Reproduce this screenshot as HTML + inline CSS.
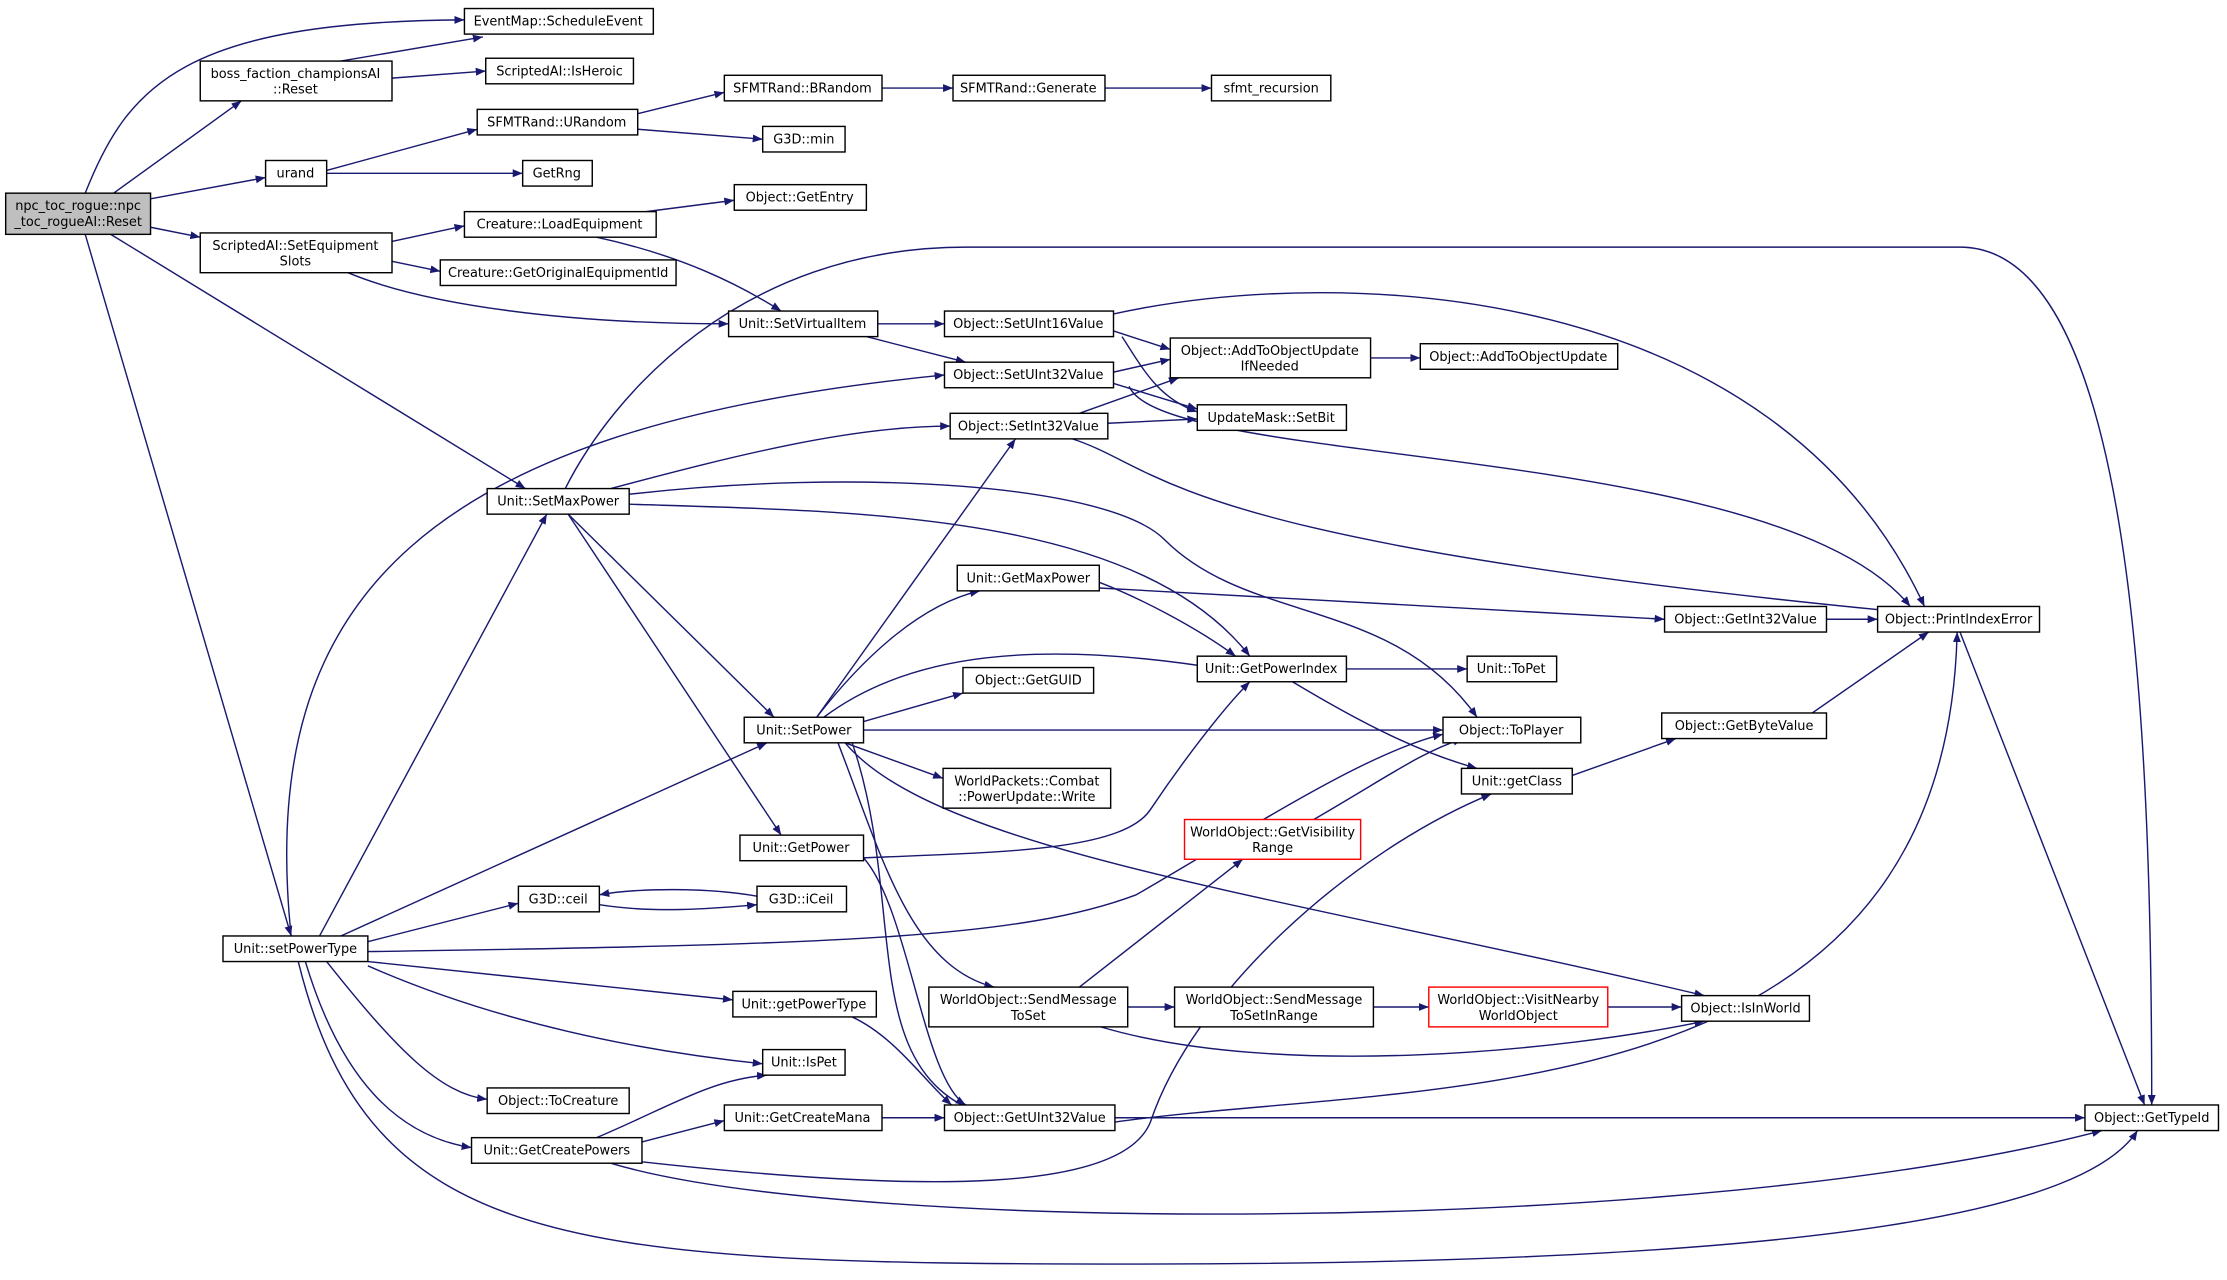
<!DOCTYPE html>
<html><head><meta charset="utf-8"><style>
html,body{margin:0;padding:0;background:#fff;}
svg text{font-family:"DejaVu Sans","Liberation Sans",sans-serif;font-size:9.1px;fill:#000;}
</style></head><body>
<svg width="2227" height="1275" viewBox="0 0 1568 897.7" xmlns="http://www.w3.org/2000/svg">
<defs><marker id="a" viewBox="0 0 10 10" refX="10" refY="5" markerWidth="7" markerHeight="7" orient="auto" markerUnits="userSpaceOnUse"><path d="M0,1 L10,5 L0,9 z" fill="#191970"/></marker></defs>
<g fill="none" stroke="#191970" stroke-width="1" marker-end="url(#a)">
<path d="M60,136 C90,60 130,15 327,14"/>
<path d="M80,136 L170,71"/>
<path d="M106,140 L187,125"/>
<path d="M106,160 L141,167"/>
<path d="M78,165 L370,344"/>
<path d="M60,165 L205,659"/>
<path d="M240,43 L340,26"/>
<path d="M276,55 L342,50"/>
<path d="M230,120 L336,91"/>
<path d="M230,122 L368,122"/>
<path d="M449,80 L510,65"/>
<path d="M449,91 L537,98"/>
<path d="M621,62 L671,62"/>
<path d="M778,62 L853,62"/>
<path d="M276,170 L327,159"/>
<path d="M276,184 L310,191"/>
<path d="M245,192 C300,215 400,228 513,228"/>
<path d="M455,149 L517,141"/>
<path d="M420,167 C480,180 520,200 550,219"/>
<path d="M618,228 L665,228"/>
<path d="M610,237 L680,255"/>
<path d="M784,233 L824,246"/>
<path d="M790,237 C805,260 815,280 843,290"/>
<path d="M784,221 C950,185 1250,200 1355,427"/>
<path d="M784,262 L824,253"/>
<path d="M784,270 L843,288"/>
<path d="M795,272 C820,330 1250,310 1345,427"/>
<path d="M760,291 L830,266"/>
<path d="M780,298 L843,295"/>
<path d="M755,309 C820,330 820,380 1330,430"/>
<path d="M965,252 L1000,252"/>
<path d="M398,344 C430,280 520,174 680,174 L1380,174 C1500,174 1515,500 1515,778"/>
<path d="M430,344 C520,320 600,300 669,300"/>
<path d="M443,355 C600,360 800,360 880,462"/>
<path d="M443,348 C600,330 780,340 820,380 C880,440 980,420 1040,505"/>
<path d="M400,362 L545,505"/>
<path d="M400,362 L550,588"/>
<path d="M774,410 C800,420 840,440 870,462"/>
<path d="M774,414 L1172,436"/>
<path d="M1286,436 L1322,436"/>
<path d="M1380,445 L1510,778"/>
<path d="M948,471 L1033,471"/>
<path d="M910,480 C960,510 1000,530 1040,541"/>
<path d="M1107,546 L1180,520"/>
<path d="M1250,520 L1358,445"/>
<path d="M575,505 L715,309"/>
<path d="M575,505 C610,460 650,425 690,416"/>
<path d="M580,505 C640,460 730,450 860,471"/>
<path d="M608,508 L678,488"/>
<path d="M608,514 L1016,514"/>
<path d="M595,523 L664,548"/>
<path d="M590,523 C620,600 640,680 700,695"/>
<path d="M595,523 C660,600 900,630 1200,701"/>
<path d="M600,523 C640,640 600,760 700,787 C900,787 1200,787 1468,787"/>
<path d="M608,604 C700,600 790,600 810,570 C830,540 860,500 880,480"/>
<path d="M608,604 C640,640 650,760 680,778"/>
<path d="M925,577 C980,545 1000,530 1030,520"/>
<path d="M760,695 L875,605"/>
<path d="M794,709 L827,709"/>
<path d="M967,709 L1006,709"/>
<path d="M1132,709 L1184,709"/>
<path d="M775,723 C900,760 1100,740 1200,719"/>
<path d="M205,659 C180,420 300,300 665,264"/>
<path d="M225,659 L385,362"/>
<path d="M240,659 L540,523"/>
<path d="M259,663 L365,636"/>
<path d="M259,670 C600,665 720,660 800,630 C870,590 960,530 1016,517"/>
<path d="M259,677 L516,704"/>
<path d="M259,680 C350,720 450,740 537,749"/>
<path d="M230,677 C280,740 310,770 343,774"/>
<path d="M215,677 C240,760 280,800 332,808"/>
<path d="M210,677 C260,880 400,890 800,890 C1300,890 1470,850 1505,796"/>
<path d="M533,631 C500,625 450,625 422,630"/>
<path d="M422,637 C460,643 500,640 533,637"/>
<path d="M600,716 C630,730 650,760 670,778"/>
<path d="M420,801 C470,780 500,760 540,757"/>
<path d="M452,804 L510,789"/>
<path d="M452,818 C650,840 790,840 810,790 C840,700 950,600 1050,559"/>
<path d="M430,819 C600,870 1200,870 1480,796"/>
<path d="M621,787 L665,787"/>
<path d="M785,790 C1000,760 1370,790 1378,445"/>
</g>
<g fill="#fff" stroke="#000" stroke-width="1">
<rect x="4" y="136" width="102" height="29" fill="#bfbfbf"/>
<rect x="327" y="6" width="133" height="18"/>
<rect x="141" y="43" width="135" height="28"/>
<rect x="342" y="41" width="104" height="18"/>
<rect x="336" y="77" width="113" height="18"/>
<rect x="510" y="53" width="111" height="18"/>
<rect x="671" y="53" width="107" height="18"/>
<rect x="853" y="53" width="84" height="18"/>
<rect x="537" y="89" width="58" height="18"/>
<rect x="187" y="113" width="43" height="18"/>
<rect x="368" y="113" width="49" height="18"/>
<rect x="517" y="130" width="93" height="18"/>
<rect x="327" y="149" width="135" height="18"/>
<rect x="141" y="164" width="135" height="28"/>
<rect x="310" y="183" width="166" height="18"/>
<rect x="513" y="219" width="105" height="18"/>
<rect x="665" y="219" width="119" height="18"/>
<rect x="824" y="238" width="141" height="28"/>
<rect x="1000" y="242" width="139" height="18"/>
<rect x="665" y="255" width="119" height="18"/>
<rect x="669" y="291" width="111" height="18"/>
<rect x="843" y="285" width="105" height="18"/>
<rect x="343" y="344" width="100" height="18"/>
<rect x="674" y="398" width="100" height="18"/>
<rect x="1172" y="427" width="114" height="18"/>
<rect x="1322" y="427" width="114" height="18"/>
<rect x="843" y="462" width="105" height="18"/>
<rect x="1033" y="462" width="63" height="18"/>
<rect x="678" y="470" width="92" height="18"/>
<rect x="524" y="505" width="84" height="18"/>
<rect x="1016" y="505" width="97" height="18"/>
<rect x="1170" y="502" width="116" height="18"/>
<rect x="664" y="541" width="118" height="28"/>
<rect x="1029" y="541" width="78" height="18"/>
<rect x="834" y="577" width="124" height="28" stroke="#f00"/>
<rect x="521" y="588" width="87" height="18"/>
<rect x="365" y="624" width="57" height="18"/>
<rect x="533" y="624" width="63" height="18"/>
<rect x="157" y="659" width="102" height="18"/>
<rect x="654" y="695" width="140" height="28"/>
<rect x="827" y="695" width="140" height="28"/>
<rect x="1006" y="695" width="126" height="28" stroke="#f00"/>
<rect x="1184" y="701" width="90" height="18"/>
<rect x="516" y="698" width="101" height="18"/>
<rect x="537" y="739" width="58" height="18"/>
<rect x="343" y="766" width="100" height="18"/>
<rect x="510" y="778" width="111" height="18"/>
<rect x="665" y="778" width="120" height="18"/>
<rect x="332" y="801" width="120" height="18"/>
<rect x="1468" y="778" width="94" height="18"/>
</g>
<g text-anchor="middle">
<text x="55" y="148">npc_toc_rogue::npc</text><text x="55" y="159">_toc_rogueAI::Reset</text>
<text x="393" y="18">EventMap::ScheduleEvent</text>
<text x="208" y="55">boss_faction_championsAI</text><text x="208" y="66">::Reset</text>
<text x="394" y="53">ScriptedAI::IsHeroic</text>
<text x="392" y="89">SFMTRand::URandom</text>
<text x="565" y="65">SFMTRand::BRandom</text>
<text x="724" y="65">SFMTRand::Generate</text>
<text x="895" y="65">sfmt_recursion</text>
<text x="566" y="101">G3D::min</text>
<text x="208" y="125">urand</text>
<text x="392" y="125">GetRng</text>
<text x="563" y="142">Object::GetEntry</text>
<text x="394" y="161">Creature::LoadEquipment</text>
<text x="208" y="176">ScriptedAI::SetEquipment</text><text x="208" y="187">Slots</text>
<text x="393" y="195">Creature::GetOriginalEquipmentId</text>
<text x="565" y="231">Unit::SetVirtualItem</text>
<text x="724" y="231">Object::SetUInt16Value</text>
<text x="894" y="250">Object::AddToObjectUpdate</text><text x="894" y="261">IfNeeded</text>
<text x="1069" y="254">Object::AddToObjectUpdate</text>
<text x="724" y="267">Object::SetUInt32Value</text>
<text x="724" y="303">Object::SetInt32Value</text>
<text x="895" y="297">UpdateMask::SetBit</text>
<text x="393" y="356">Unit::SetMaxPower</text>
<text x="724" y="410">Unit::GetMaxPower</text>
<text x="1229" y="439">Object::GetInt32Value</text>
<text x="1379" y="439">Object::PrintIndexError</text>
<text x="895" y="474">Unit::GetPowerIndex</text>
<text x="1064" y="474">Unit::ToPet</text>
<text x="724" y="482">Object::GetGUID</text>
<text x="566" y="517">Unit::SetPower</text>
<text x="1064" y="517">Object::ToPlayer</text>
<text x="1228" y="514">Object::GetByteValue</text>
<text x="723" y="553">WorldPackets::Combat</text><text x="723" y="564">::PowerUpdate::Write</text>
<text x="1068" y="553">Unit::getClass</text>
<text x="896" y="589">WorldObject::GetVisibility</text><text x="896" y="600">Range</text>
<text x="564" y="600">Unit::GetPower</text>
<text x="393" y="636">G3D::ceil</text>
<text x="564" y="636">G3D::iCeil</text>
<text x="208" y="671">Unit::setPowerType</text>
<text x="724" y="707">WorldObject::SendMessage</text><text x="724" y="718">ToSet</text>
<text x="897" y="707">WorldObject::SendMessage</text><text x="897" y="718">ToSetInRange</text>
<text x="1069" y="707">WorldObject::VisitNearby</text><text x="1069" y="718">WorldObject</text>
<text x="1229" y="713">Object::IsInWorld</text>
<text x="566" y="710">Unit::getPowerType</text>
<text x="566" y="751">Unit::IsPet</text>
<text x="393" y="778">Object::ToCreature</text>
<text x="565" y="790">Unit::GetCreateMana</text>
<text x="725" y="790">Object::GetUInt32Value</text>
<text x="392" y="813">Unit::GetCreatePowers</text>
<text x="1515" y="790">Object::GetTypeId</text>
</g>
</svg>
</body></html>
